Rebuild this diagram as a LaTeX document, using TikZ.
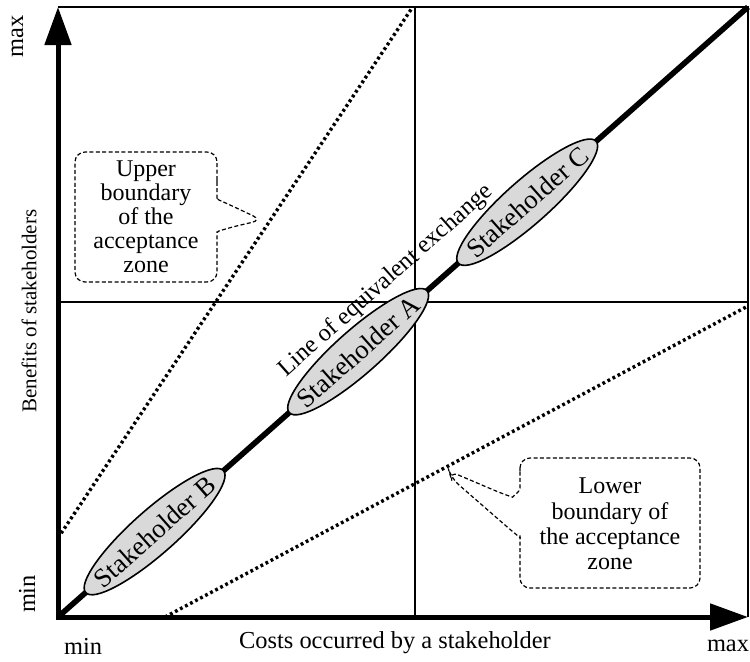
\documentclass[tikz,border=0pt]{standalone}
\usepackage{fontspec}
\setmainfont{Liberation Serif}
\usetikzlibrary{arrows.meta,shapes.geometric,calc}
\definecolor{stakefill}{RGB}{217,217,217}
\begin{document}
\begin{tikzpicture}[x=0.5pt,y=-0.5pt,
  axis/.style={line width=2.5pt,{Triangle[length=19pt,width=13pt]}-{Triangle[length=19pt,width=13pt]}},
  frame/.style={line width=1.2pt},
  diag/.style={line width=2.8pt},
  zone/.style={line width=1.7pt,dash pattern=on 1.4pt off 1.45pt},
  callout/.style={line width=0.6pt,dash pattern=on 2pt off 1.2pt,rounded corners=5pt},
  stake/.style={ellipse,draw,line width=0.8pt,fill=stakefill,minimum width=92pt,minimum height=22pt,inner sep=0pt,rotate=41.5},
  stakelbl/.style={font=\fontsize{13.4}{14}\selectfont,rotate=41.5,inner sep=0pt},
  lbl/.style={font=\fontsize{12.2}{13}\selectfont,inner sep=0pt},
  note/.style={font=\fontsize{12}{12}\selectfont,align=center,inner sep=0pt}]
\useasboundingbox (0,0) rectangle (750,661);

% corners of the chart and the quadrant dividers
\coordinate (O) at (58,617);
\coordinate (Ytip) at (58,7);
\coordinate (Xtip) at (748,617);
\coordinate (TR) at (748,7);
\coordinate (Mt) at (415,7);
\coordinate (Mb) at (415,617);
\coordinate (Hl) at (58,302);
\coordinate (Hr) at (748,302);
% boundaries of the acceptance zone
\coordinate (U1) at (58,538);
\coordinate (U2) at (412,8);
\coordinate (L1) at (165,617);
\coordinate (L2) at (748,306);

\draw[frame] (Ytip) -- (TR) -- (Xtip);
\draw[frame] (Mt) -- (Mb);
\draw[frame] (Hl) -- (Hr);
\draw[zone] (U1) -- (U2);
\draw[zone] (L1) -- (L2);
\draw[diag] (O) -- (TR);

% stakeholders along the line of equivalent exchange
\node[stake] (sB) at ($(O)!0.14!(TR)$) {};
\node[stakelbl] (sBt) at (sB.center) {Stakeholder B};
\node[stake] (sA) at ($(O)!0.435!(TR)$) {};
\node[stakelbl] (sAt) at (sA.center) {Stakeholder A};
\node[stake] (sC) at ($(O)!0.68!(TR)$) {};
\node[stakelbl] (sCt) at (sC.center) {Stakeholder C};

\node[lbl,rotate=41.5] (leq) at (386,281) {Line of equivalent exchange};

% axes
\draw[axis] (Xtip) -- (O) -- (Ytip);
\node[lbl] (xlab) at (395,643) {Costs occurred by a stakeholder};
\node[lbl] (xmin) at (83,646) {min};
\node[lbl] (xmax) at (728,646) {max};
\node[lbl,rotate=90] (ymin) at (27,594) {min};
\node[lbl,rotate=90] (ymax) at (17.5,36) {max};
\node[lbl,rotate=90,font=\fontsize{10.5}{12}\selectfont] (ylab) at (29,311) {Benefits of stakeholders};

% upper callout
\draw[callout] (217,190) -- (217,152) -- (75,152) -- (75,282) -- (217,282) -- (217,242)
  .. controls (217,233) and (219,231) .. (228,228) -- (262,220) -- (228,204)
  .. controls (219,200) and (217,198) .. (217,190) -- cycle;
\node[note] (ub) at (146,217) {Upper\\boundary\\of the\\acceptance\\zone};

% lower callout
\draw[callout] (520,478) -- (520,458) -- (700,458) -- (700,588) -- (520,588) -- (520,545)
  .. controls (520,538) and (518,536) .. (513,532) -- (451,478) -- (449,471) -- (503,494)
  .. controls (512,497) and (520,492) .. (520,478) -- cycle;
\node[note,font=\fontsize{12}{12.7}\selectfont] (lb) at (610,524) {Lower\\boundary of\\the acceptance\\zone};
\end{tikzpicture}
\end{document}
